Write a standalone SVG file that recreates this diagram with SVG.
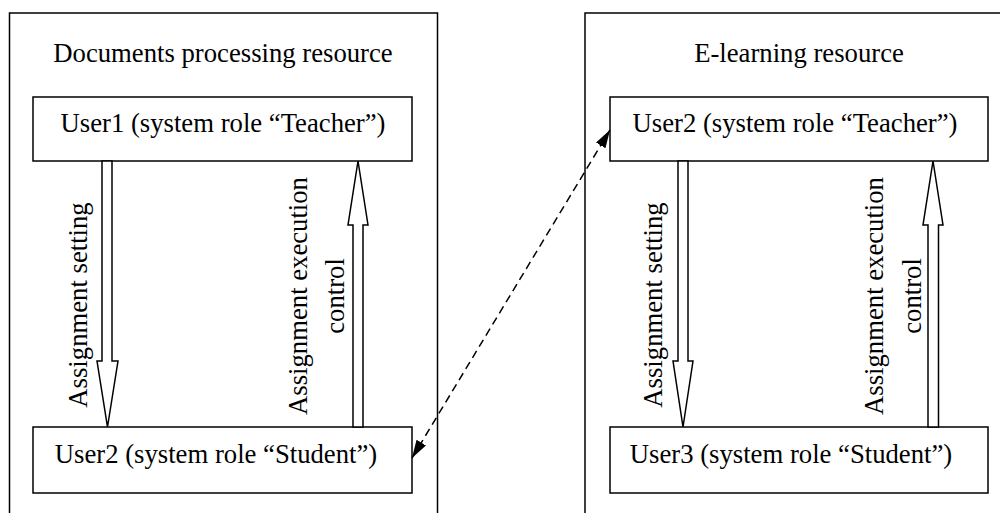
<svg xmlns="http://www.w3.org/2000/svg" width="1000" height="513" viewBox="0 0 1000 513">
  <style>
    .frame { fill: none; stroke: #000; stroke-width: 1.5; }
    .box { fill: #fff; stroke: #000; stroke-width: 1.5; }
    .block { fill: #fff; stroke: #000; stroke-width: 1.5; stroke-linejoin: miter; }
    .dash { fill: none; stroke: #000; stroke-width: 1.5; stroke-dasharray: 8 5; }
    text { font-family: "Liberation Serif", "Times New Roman", serif; font-size: 26.7px; fill: #000; }
  </style>
  <defs>
    <marker id="head" viewBox="0 0 18 11" refX="18" refY="5.5" markerWidth="18" markerHeight="11" markerUnits="userSpaceOnUse" orient="auto-start-reverse">
      <path d="M0,0 L18,5.5 L0,11 z" fill="#000"/>
    </marker>
  </defs>

  <!-- resource frames -->
  <g id="docs-resource">
    <rect class="frame" x="9.5" y="13" width="428" height="520"/>
    <text x="223" y="62" text-anchor="middle">Documents processing resource</text>
  </g>
  <g id="elearning-resource">
    <rect class="frame" x="585" y="13" width="440" height="520"/>
    <text x="799" y="62" text-anchor="middle">E-learning resource</text>
  </g>

  <!-- user nodes -->
  <g id="docs-teacher">
    <rect class="box" x="33" y="97" width="379" height="64"/>
    <text x="223" y="132" text-anchor="middle">User1 (system role “Teacher”)</text>
  </g>
  <g id="docs-student">
    <rect class="box" x="33" y="427" width="379" height="66"/>
    <text x="216" y="463" text-anchor="middle">User2 (system role “Student”)</text>
  </g>
  <g id="el-teacher">
    <rect class="box" x="610" y="97" width="378" height="64"/>
    <text x="795" y="132" text-anchor="middle">User2 (system role “Teacher”)</text>
  </g>
  <g id="el-student">
    <rect class="box" x="610" y="427" width="378" height="66"/>
    <text x="791" y="463" text-anchor="middle">User3 (system role “Student”)</text>
  </g>

  <!-- connectors -->
  <g id="connectors">
    <!-- left resource: assignment setting (down) -->
    <polygon class="block" points="102,161 112,161 112,361 118,361 107.5,427 97,361 102,361"/>
    <text transform="translate(87,305) rotate(-90)" text-anchor="middle">Assignment setting</text>
    <!-- left resource: execution control (up) -->
    <polygon class="block" points="358,161 368,225 363,225 363,427 353,427 353,225 348,225"/>
    <text transform="translate(307,296) rotate(-90)" text-anchor="middle">Assignment execution</text>
    <text transform="translate(344,296) rotate(-90)" text-anchor="middle">control</text>

    <!-- right resource: assignment setting (down) -->
    <polygon class="block" points="678,161 688,161 688,361 693,361 683,427 673,361 678,361"/>
    <text transform="translate(662,305) rotate(-90)" text-anchor="middle">Assignment setting</text>
    <!-- right resource: execution control (up) -->
    <polygon class="block" points="933,161 943,225 938.5,225 938.5,427 928,427 928,225 923,225"/>
    <text transform="translate(883,296) rotate(-90)" text-anchor="middle">Assignment execution</text>
    <text transform="translate(921,296) rotate(-90)" text-anchor="middle">control</text>

    <!-- link between the two User2 accounts -->
    <line class="dash" x1="412" y1="458" x2="610" y2="130" marker-start="url(#head)" marker-end="url(#head)"/>
  </g>
</svg>
